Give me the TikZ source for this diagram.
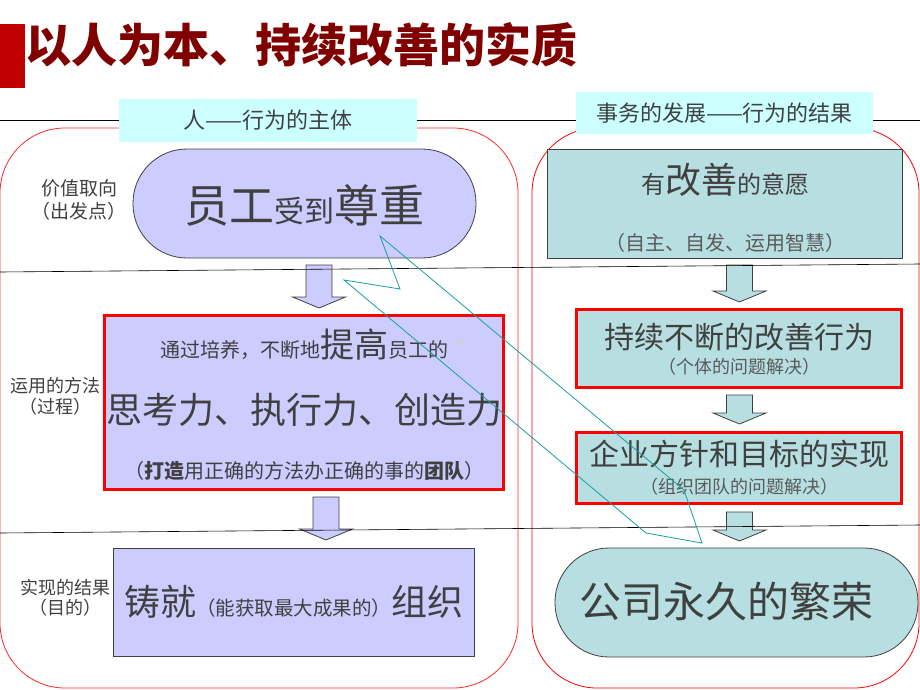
\documentclass[tikz,border=0pt]{standalone}
\usepackage{fontspec}
\setmainfont{Noto Sans CJK SC}
\pgfdeclarelayer{background}
\pgfdeclarelayer{foreground}
\pgfsetlayers{background,main,foreground}
\definecolor{lavender}{HTML}{CCCCFF}
\definecolor{paleteal}{HTML}{B7DEE1}
\definecolor{palecyan}{HTML}{CCFFFF}
\definecolor{boxgray}{HTML}{404040}
\definecolor{textgray}{HTML}{404040}
\definecolor{subgray}{HTML}{5A5A5A}
\definecolor{titlered}{HTML}{800000}
\definecolor{barred}{HTML}{C00000}
\definecolor{boltteal}{HTML}{1A9E9E}
\newcommand{\fsz}[1]{\fontsize{#1}{#1}\selectfont}

\begin{document}
\begin{tikzpicture}[x=1pt,y=-1pt,
							txt/.style={inner sep=0pt, text=textgray},
							subtxt/.style={inner sep=0pt, text=subgray},
							headbox/.style={rectangle, fill=palecyan, inner sep=0pt, text=textgray, font=\fsz{22}},
							lavbox/.style={rectangle, draw=boxgray, fill=lavender, line width=0.8pt, inner sep=0pt},
							tealbox/.style={rectangle, draw=boxgray, fill=paleteal, line width=0.8pt, inner sep=0pt},
							redframe/.style={draw=red, line width=3pt},
							downarrow/.pic={\draw[draw=boxgray, line width=0.8pt, fill=\arrowfill]
								(-13,0) -- (13,0) -- (13,\arrowlen-11) -- (26.5,\arrowlen-11) -- (0,\arrowlen)
								-- (-26.5,\arrowlen-11) -- (-13,\arrowlen-11) -- cycle;},
							]
							\useasboundingbox (0,0) rectangle (920,690);
							%Title
							\fill[barred] (0,24) rectangle (25,88);
							\node[inner sep=0pt, text=titlered, font=\fsz{46}\bfseries] (title) at (301,45) {以人为本、持续改善的实质};

							\begin{pgfonlayer}{background}
							\draw[red!85, line width=0.8pt, rounded corners=65pt] (0,128) rectangle (518,688);
							\draw[red, line width=0.8pt, rounded corners=65pt] (532,128) rectangle (919,688);
							\end{pgfonlayer}

							%Headers
							\draw[black, line width=0.6pt] (0,120) -- (920,120);
							\node[headbox, minimum width=298pt, minimum height=43pt] (headL) at (268,120.5) {人——行为的主体};
							\node[headbox, minimum width=297pt, minimum height=42pt] (headR) at (724.5,113) {事务的发展——行为的结果};

							%Left column
							\node[txt, font=\fsz{19}] (labA1) at (79,188) {价值取向};
							\node[txt, font=\fsz{19}] (labA2) at (79,211) {（出发点）};
							\node[lavbox, rounded corners=54pt, minimum width=343pt, minimum height=109pt] (respect) at (304.5,203.5) {};
							\node[txt, font=\fsz{45}] (respectT) at (304.5,205) {员工{\fsz{30}受到}尊重};

							\def\arrowfill{lavender}\def\arrowlen{43}
							\pic at (319,265) {downarrow};

							\node[txt, font=\fsz{18}] (labB1) at (55,386) {运用的方法};
							\node[txt, font=\fsz{18}] (labB2) at (55,407) {（过程）};
							\node[lavbox, redframe, minimum width=399pt, minimum height=174pt] (method) at (304,402.5) {};
							\node[txt, font=\fsz{20}] (methodT1) at (304.5,345) {通过培养，不断地{\fsz{34}提高}员工的};
							\fill[black!18] (457.5,339.5) rectangle (462.5,344.5);
							\node[txt, font=\fsz{36}] (methodT2) at (304,410) {思考力、执行力、创造力};
							\node[txt, font=\fsz{20}] (methodT3) at (304,471) {（{\bfseries 打造}用正确的方法办正确的事的{\bfseries 团队}）};

							\pic at (326,497) {downarrow};

							\node[txt, font=\fsz{18}] (labC1) at (65,588) {实现的结果};
							\node[txt, font=\fsz{18}] (labC2) at (65,608) {（目的）};
							\node[lavbox, minimum width=361pt, minimum height=108pt] (org) at (293.5,602) {};
							\node[txt, font=\fsz{36}] (orgT) at (293.5,602) {铸就{\fsz{19.5}（能获取最大成果的）}组织};

							%Right column
							\node[tealbox, minimum width=355pt, minimum height=109pt] (will) at (724.5,203.5) {};
							\node[txt, font=\fsz{24}] (willT1) at (725,180) {有{\fsz{36}改善}的意愿};
							\node[subtxt, font=\fsz{20}] (willT2) at (725,243) {（自主、自发、运用智慧）};

							\def\arrowfill{paleteal}\def\arrowlen{37}
							\pic at (739.5,265) {downarrow};

							\node[tealbox, redframe, minimum width=325pt, minimum height=78pt] (act) at (739,348.5) {};
							\node[txt, font=\fsz{30}] (actT1) at (739,337) {持续不断的改善行为};
							\node[subtxt, font=\fsz{18}] (actT2) at (739,367) {（个体的问题解决）};

							\def\arrowlen{29}
							\pic at (739.5,395) {downarrow};

							\node[tealbox, redframe, minimum width=325pt, minimum height=71pt] (goal) at (739,468) {};
							\node[txt, font=\fsz{30}] (goalT1) at (739,454) {企业方针和目标的实现};
							\node[subtxt, font=\fsz{18}] (goalT2) at (739,487) {（组织团队的问题解决）};

							\pic at (739.5,512) {downarrow};

							\node[tealbox, rounded corners=54pt, minimum width=363pt, minimum height=109pt] (prosper) at (736.5,602.5) {};
							\node[txt, font=\fsz{42}] (prosperT) at (726,602) {公司永久的繁荣};

							%Dividers
							\draw[black, line width=0.6pt] (0,272) -- (920,264);
							\draw[black, line width=0.6pt] (0,533) -- (920,525);

							\begin{pgfonlayer}{foreground}
							\draw[boltteal, line width=0.8pt] (380,236) -- (400,289) -- (344,280) -- (646,533) -- (702,543) -- (684,490) -- cycle;
							\end{pgfonlayer}
						\end{tikzpicture}
\end{document}
